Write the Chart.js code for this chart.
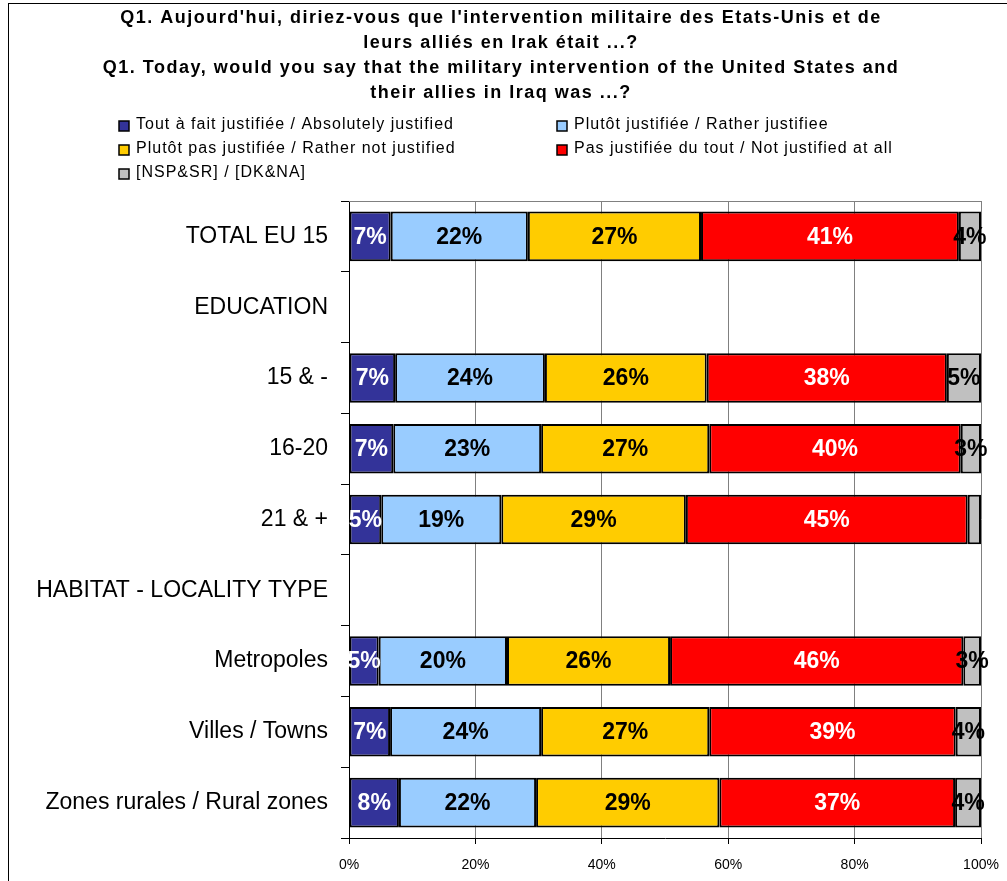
<!DOCTYPE html>
<html>
<head>
<meta charset="utf-8">
<script src="https://cdn.jsdelivr.net/npm/chart.js@4"></script>
<style>
  html, body { margin: 0; padding: 0; background: #fff; }
  #wrap { width: 1007px; height: 881px; }
</style>
</head>
<body>
<div id="wrap"><canvas id="chart" width="1007" height="881"></canvas></div>
<script>
const categories = ['TOTAL EU 15', 'EDUCATION', '15 & -', '16-20', '21 & +',
    'HABITAT - LOCALITY TYPE', 'Metropoles', 'Villes / Towns', 'Zones rurales / Rural zones'];

const absolutely = [6.6, null, 7.3, 7.0, 5.1, null, 4.7, 6.5, 7.9];
const rather     = [21.7, null, 23.7, 23.4, 19.0, null, 20.3, 23.9, 21.7];
const ratherNot  = [27.4, null, 25.6, 26.6, 29.2, null, 25.8, 26.6, 29.0];
const notAtAll   = [40.8, null, 38.0, 39.8, 44.6, null, 46.4, 39.0, 37.3];
const dkna       = [3.5, null, 5.4, 3.2, 2.1, null, 2.8, 4.0, 4.1];

const seriesNames = [
    'Tout à fait justifiée / Absolutely justified',
    'Plutôt justifiée / Rather justifiee',
    'Plutôt pas justifiée / Rather not justified',
    'Pas justifiée du tout / Not justified at all',
    '[NSP&SR] / [DK&NA]'
];
const seriesColors = ['#333399', '#99ccff', '#ffcc00', '#ff0000', '#c0c0c0'];
const labelColors  = ['#fff', '#000', '#000', '#fff', '#000'];

const titleLines = [
    "Q1. Aujourd'hui, diriez-vous que l'intervention militaire des Etats-Unis et de",
    "leurs alliés en Irak était ...?",
    "Q1. Today, would you say that the military intervention of the United States and",
    "their allies in Iraq was ...?"
];

const FONT = '"Liberation Sans", Arial, sans-serif';
Chart.defaults.font.family = FONT;
Chart.defaults.color = '#000';

// white page, outer frame and the spaced-out bold title
const framePlugin = {
    id: 'frame',
    beforeDraw(chart) {
        const ctx = chart.ctx;
        ctx.save();
        ctx.fillStyle = '#fff';
        ctx.fillRect(0, 0, chart.width, chart.height);
        ctx.strokeStyle = '#000';
        ctx.lineWidth = 1;
        ctx.strokeRect(8.5, 3.5, chart.width + 20, chart.height + 20);

        ctx.fillStyle = '#000';
        ctx.font = 'bold 18px ' + FONT;
        ctx.letterSpacing = '1.5px';
        ctx.textAlign = 'center';
        ctx.textBaseline = 'middle';
        titleLines.forEach((t, i) => ctx.fillText(t, 501, 18 + i * 25));
        ctx.restore();
    },
    beforeDatasetsDraw(chart) {
        // top edge of plot area
        const a = chart.chartArea, ctx = chart.ctx;
        ctx.save();
        ctx.strokeStyle = '#808080';
        ctx.lineWidth = 1;
        ctx.beginPath();
        ctx.moveTo(a.left, Math.round(a.top) + 0.5);
        ctx.lineTo(a.right, Math.round(a.top) + 0.5);
        ctx.stroke();
        ctx.restore();
    }
};

// two-column legend under the title
const gridLegend = {
    id: 'gridLegend',
    afterDraw(chart) {
        const ctx = chart.ctx;
        const cols = [119, 557];
        const rows = [124, 148, 172];
        ctx.save();
        ctx.font = '16px ' + FONT;
        ctx.letterSpacing = '1px';
        ctx.textBaseline = 'middle';
        ctx.textAlign = 'left';
        chart.data.datasets.forEach((ds, i) => {
            const x = cols[i % 2], y = rows[Math.floor(i / 2)];
            ctx.fillStyle = ds.backgroundColor;
            ctx.fillRect(x, y - 3, 10, 10);
            ctx.strokeStyle = '#000';
            ctx.lineWidth = 1.5;
            ctx.strokeRect(x, y - 3, 10, 10);
            ctx.fillStyle = '#000';
            ctx.fillText(ds.label, x + 17, y + 1);
        });
        ctx.restore();
    }
};

// percentage labels centred in each segment
const barLabels = {
    id: 'barLabels',
    afterDatasetsDraw(chart) {
        const ctx = chart.ctx;
        ctx.save();
        ctx.font = 'bold 23px ' + FONT;
        ctx.textAlign = 'center';
        ctx.textBaseline = 'middle';
        chart.data.datasets.forEach((ds, i) => {
            const meta = chart.getDatasetMeta(i);
            meta.data.forEach((el, j) => {
                const v = ds.data[j];
                if (v == null || v < 2.5) return;
                ctx.fillStyle = labelColors[i];
                ctx.fillText(Math.round(v) + '%', (el.x + el.base) / 2, el.y + 1);
            });
        });
        ctx.restore();
    }
};

const values = [absolutely, rather, ratherNot, notAtAll, dkna];

new Chart(document.getElementById('chart'), {
    type: 'bar',
    data: {
        labels: categories,
        datasets: values.map((d, i) => ({
            label: seriesNames[i],
            data: d,
            backgroundColor: seriesColors[i],
            borderColor: '#000',
            borderWidth: 2,
            borderSkipped: false,
            categoryPercentage: 1,
            barPercentage: 0.7
        }))
    },
    options: {
        indexAxis: 'y',
        responsive: false,
        animation: false,
        layout: { padding: { left: 0, right: 26, top: 201, bottom: 0 } },
        plugins: {
            legend: { display: false },
            tooltip: { enabled: false },
            title: { display: false }
        },
        scales: {
            x: {
                stacked: true,
                min: 0, max: 100,
                afterFit: s => { s.height = 43; s.paddingLeft = 0; s.paddingRight = 0; },
                ticks: { stepSize: 20, color: '#000', font: { size: 14 }, padding: 13, callback: v => v + '%' },
                grid: { color: '#808080', tickColor: '#000', tickLength: 6 },
                border: { color: '#000' }
            },
            y: {
                stacked: true,
                afterFit: s => { s.width = 349; },
                ticks: { color: '#000', font: { size: 23 }, padding: 13, autoSkip: false },
                grid: { drawOnChartArea: false, offset: true, tickColor: '#000', tickLength: 8 },
                border: { color: '#000' }
            }
        }
    },
    plugins: [framePlugin, gridLegend, barLabels]
});
</script>
</body>
</html>
